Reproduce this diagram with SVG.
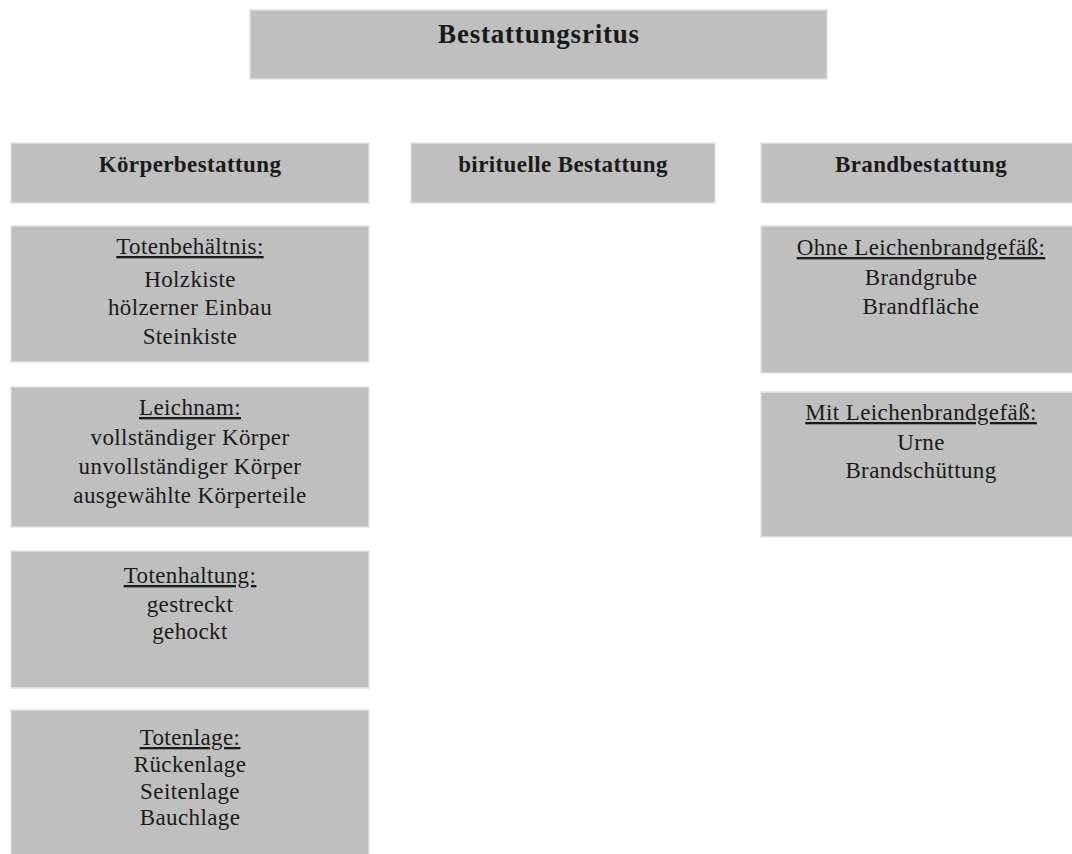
<svg xmlns="http://www.w3.org/2000/svg" width="1072" height="854" viewBox="0 0 1072 854">
<style>
.box{fill:#bfbfbf;stroke:#e2e2e2;stroke-width:1.5}
text{font-family:"Liberation Serif","Times New Roman",serif;fill:#1a1a1a;text-anchor:middle}
.t{font-size:27px;font-weight:bold;letter-spacing:0.8px}
.h{font-size:23px;font-weight:bold;letter-spacing:0.4px}
.b{font-size:23px;letter-spacing:0.4px}
.u{text-decoration:underline}
</style>
<rect width="1072" height="854" fill="#ffffff"/>
<g id="bestattungsritus">
<rect class="box" x="250" y="10" width="577" height="69"/>
<text class="t" x="539" y="43">Bestattungsritus</text>
</g>
<g id="koerperbestattung">
<rect class="box" x="11" y="143" width="358" height="60"/>
<text class="h" x="190" y="172">Körperbestattung</text>
</g>
<g id="birituelle">
<rect class="box" x="411" y="143" width="304" height="60"/>
<text class="h" x="563" y="172">birituelle Bestattung</text>
</g>
<g id="brandbestattung">
<rect class="box" x="761" y="143" width="320" height="60"/>
<text class="h" x="921" y="172">Brandbestattung</text>
</g>
<g id="totenbehaeltnis">
<rect class="box" x="11" y="226" width="358" height="136"/>
<text class="b" x="190" y="254"><tspan class="u">Totenbehältnis:</tspan></text>
<text class="b" x="190" y="287">Holzkiste</text>
<text class="b" x="190" y="315">hölzerner Einbau</text>
<text class="b" x="190" y="344">Steinkiste</text>
</g>
<g id="leichnam">
<rect class="box" x="11" y="387" width="358" height="140"/>
<text class="b" x="190" y="415"><tspan class="u">Leichnam:</tspan></text>
<text class="b" x="190" y="445">vollständiger Körper</text>
<text class="b" x="190" y="474">unvollständiger Körper</text>
<text class="b" x="190" y="503">ausgewählte Körperteile</text>
</g>
<g id="totenhaltung">
<rect class="box" x="11" y="551" width="358" height="137"/>
<text class="b" x="190" y="583"><tspan class="u">Totenhaltung:</tspan></text>
<text class="b" x="190" y="612">gestreckt</text>
<text class="b" x="190" y="639">gehockt</text>
</g>
<g id="totenlage">
<rect class="box" x="11" y="710" width="358" height="150"/>
<text class="b" x="190" y="745"><tspan class="u">Totenlage:</tspan></text>
<text class="b" x="190" y="772">Rückenlage</text>
<text class="b" x="190" y="799">Seitenlage</text>
<text class="b" x="190" y="825">Bauchlage</text>
</g>
<g id="ohne">
<rect class="box" x="761" y="226" width="320" height="147"/>
<text class="b" x="921" y="255"><tspan class="u">Ohne Leichenbrandgefäß:</tspan></text>
<text class="b" x="921" y="285">Brandgrube</text>
<text class="b" x="921" y="314">Brandfläche</text>
</g>
<g id="mit">
<rect class="box" x="761" y="392" width="320" height="145"/>
<text class="b" x="921" y="420"><tspan class="u">Mit Leichenbrandgefäß:</tspan></text>
<text class="b" x="921" y="450">Urne</text>
<text class="b" x="921" y="478">Brandschüttung</text>
</g>
<g id="connectors"/>
</svg>
